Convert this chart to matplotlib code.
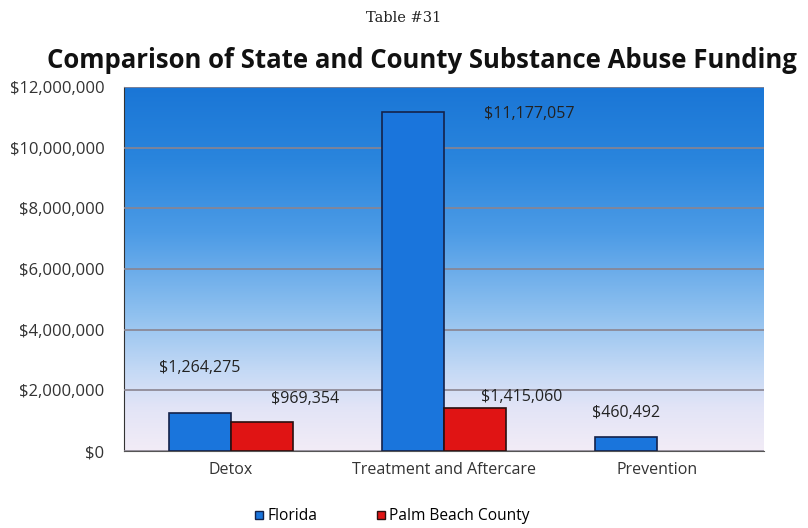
import numpy as np
import matplotlib.pyplot as plt
from matplotlib.colors import LinearSegmentedColormap
from matplotlib.ticker import FuncFormatter
from matplotlib.lines import Line2D

categories = ['Detox', 'Treatment and Aftercare', 'Prevention']
florida = [1264275, 11177057, 460492]
palm_beach = [969354, 1415060, 0]
series_names = ['Florida', 'Palm Beach County']

# label offsets in points (dx, dy) from the top centre of each bar
florida_offsets = [(0, 32), (84, -1), (0, 17)]
palm_offsets = [(31, 16), (34, 8), None]

plt.rcParams['font.family'] = ['Open Sans', 'DejaVu Sans']

fig = plt.figure(figsize=(8.08, 5.28), dpi=100)
ax = fig.add_axes([0.1535, 0.1458, 0.792, 0.689])

x = np.arange(len(categories))
w = 0.29

# background gradient, dark blue at the top fading to pale lavender
grad = LinearSegmentedColormap.from_list('bg', [
    (0.0, '#f2ecf6'),
    (0.12, '#e2e4f7'),
    (0.22, '#c4d9f5'),
    (0.38, '#8ec0ef'),
    (0.6, '#4c9be6'),
    (0.8, '#2a85dd'),
    (1.0, '#1a76d6'),
])
ax.imshow(np.linspace(0, 1, 256).reshape(-1, 1), cmap=grad, origin='lower',
          aspect='auto', extent=(-0.5, 2.5, 0, 12000000), zorder=0)

ax.set_xlim(-0.5, 2.5)
ax.set_ylim(0, 12000000)
ax.set_yticks(np.arange(0, 12000001, 2000000))
ax.yaxis.set_major_formatter(FuncFormatter(lambda v, p: f'${v:,.0f}'))
ax.grid(axis='y', color='#8a8490', linewidth=1.2, zorder=1)
ax.set_axisbelow(False)

b1 = ax.bar(x - w / 2, florida, w, color='#1a75dc', edgecolor='#14224a',
            linewidth=1.2, zorder=3)
b2 = ax.bar(x + w / 2, palm_beach, w, color='#e01414', edgecolor='#2a1010',
            linewidth=1.2, zorder=3)
b2[2].set_visible(False)

for rect, val, off in zip(b1, florida, florida_offsets):
    ax.annotate(f'${val:,}', (rect.get_x() + rect.get_width() / 2, val),
                xytext=off, textcoords='offset points', ha='center',
                va='center', fontsize=11.5, color='#222222', zorder=4)
for rect, val, off in zip(b2, palm_beach, palm_offsets):
    if off is None:
        continue
    ax.annotate(f'${val:,}', (rect.get_x() + rect.get_width() / 2, val),
                xytext=off, textcoords='offset points', ha='center',
                va='center', fontsize=11.5, color='#222222', zorder=4)

ax.set_xticks(x)
ax.set_xticklabels(categories, fontsize=11.5, color='#333333')
ax.tick_params(axis='x', length=0, pad=8)
ax.tick_params(axis='y', length=0, labelsize=12, labelcolor='#333333', pad=14)
for side in ['top', 'right']:
    ax.spines[side].set_visible(False)
ax.spines['left'].set_color('#333333')
ax.spines['bottom'].set_color('#555555')

fig.text(0.5, 0.965, 'Table #31', ha='center', va='center',
         fontsize=10.5, family='DejaVu Serif', color='#222222')
fig.text(0.522, 0.885, 'Comparison of State and County Substance Abuse Funding',
         ha='center', va='center', fontsize=18.5, fontweight='bold', color='#111111')

handles = [
    Line2D([], [], marker='s', linestyle='none', markersize=6,
           markerfacecolor='#1a75dc', markeredgecolor='#14224a', label=series_names[0]),
    Line2D([], [], marker='s', linestyle='none', markersize=6,
           markerfacecolor='#e01414', markeredgecolor='#2a1010', label=series_names[1]),
]
fig.legend(handles=handles, loc='center', bbox_to_anchor=(0.485, 0.022), ncol=2,
           frameon=False, fontsize=11.2, handlelength=0.6, handletextpad=0.25,
           columnspacing=3.8)

fig.savefig('out.png', dpi=100)
